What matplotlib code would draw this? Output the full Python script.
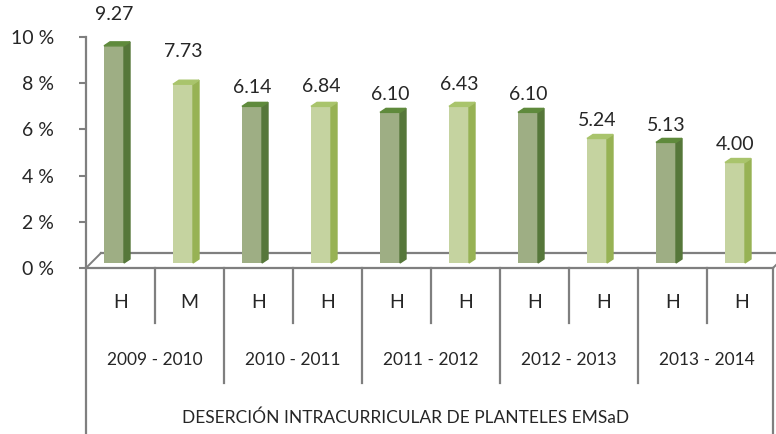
import matplotlib.pyplot as plt
from matplotlib.patches import Polygon

plt.rcParams['font.family'] = ['Lato', 'DejaVu Sans']

# data
sexo = ['H', 'M', 'H', 'H', 'H', 'H', 'H', 'H', 'H', 'H']
ciclos = ['2009 - 2010', '2010 - 2011', '2011 - 2012', '2012 - 2013', '2013 - 2014']
etiquetas = ['9.27', '7.73', '6.14', '6.84', '6.10', '6.43', '6.10', '5.24', '5.13', '4.00']
alturas = [9.40, 7.74, 6.78, 6.78, 6.52, 6.78, 6.52, 5.39, 5.22, 4.35]   # bar heights as drawn (%)
yticks = [0, 2, 4, 6, 8, 10]
titulo = 'DESERCIÓN INTRACURRICULAR DE PLANTELES EMSaD'

W, H = 776, 434
PX_X = 69.0      # pixels per category
PX_Y = 23.1      # pixels per percent
gris = '#7f7f7f'
texto = '#262626'

oscuro = ('#9eae84', '#56773a', '#5f8a3c')   # front, side, top
claro = ('#c5d3a0', '#97b254', '#a9c46c')

fig = plt.figure(figsize=(W / 100, H / 100), dpi=100)
ax = fig.add_axes([86 / W, (H - 268) / H, 690 / W, 231 / H])
ax.set_xlim(0, 10)
ax.set_ylim(0, 10)
for s in ['top', 'right', 'bottom']:
    ax.spines[s].set_visible(False)
ax.spines['left'].set_color(gris)
ax.spines['left'].set_linewidth(1.6)
ax.set_xticks([])
ax.set_yticks(yticks)
ax.set_yticklabels([f'{t} %' for t in yticks], fontsize=14, color=texto)
ax.tick_params(axis='y', direction='out', length=5, width=1.5, color=gris, pad=18)

# floor
dfx, dfy = 15 / PX_X, 15 / PX_Y
xr = 687 / PX_X
ax.plot([0, xr], [0, 0], color=gris, lw=1.6, clip_on=False, zorder=1)
ax.plot([dfx, 10.3], [dfy, dfy], color=gris, lw=1.6, clip_on=False, zorder=1)
ax.plot([0, dfx], [0, dfy], color=gris, lw=1.4, clip_on=False, zorder=1)
ax.plot([xr, xr + dfx], [0, dfy], color=gris, lw=1.4, clip_on=False, zorder=1)

# bars with a little depth
base = 5 / PX_Y
bw = 20 / PX_X
dx, dy = 6 / PX_X, 4 / PX_Y
lift = [31, 33, 19, 20, 18, 22, 18, 18, 17, 18]
for i, h in enumerate(alturas):
    fr, sd, tp = oscuro if i % 2 == 0 else claro
    x0 = i + 18 / PX_X
    ax.bar(x0, h, bw, bottom=base, align='edge', color=fr, zorder=3, clip_on=False)
    top = base + h
    ax.add_patch(Polygon([(x0 + bw, base), (x0 + bw + dx, base + dy),
                          (x0 + bw + dx, top + dy), (x0 + bw, top)],
                         closed=True, color=sd, zorder=3, clip_on=False))
    ax.add_patch(Polygon([(x0, top), (x0 + dx, top + dy),
                          (x0 + bw + dx, top + dy), (x0 + bw, top)],
                         closed=True, color=tp, zorder=3, clip_on=False))
    ax.text(x0 + bw / 2, top + lift[i] / PX_Y, etiquetas[i], ha='center', va='center',
            fontsize=14, color=texto, clip_on=False)

# category table below
tab = fig.add_axes([86 / W, 0, 690 / W, 166 / H])
tab.set_xlim(0, 10)
tab.set_ylim(166, 0)
tab.axis('off')
tab.plot([0, 0], [0, 166], color=gris, lw=1.6, clip_on=False)
tab.plot([xr, xr], [0, 166], color=gris, lw=1.6, clip_on=False)
for k in range(1, 10):
    largo = 55 if k % 2 == 1 else 115
    tab.plot([k, k], [0, largo], color=gris, lw=1.6, clip_on=False)
for i, s in enumerate(sexo):
    tab.text(i + 0.5, 35, s, ha='center', va='center', fontsize=14, color=texto)
for j, c in enumerate(ciclos):
    tab.text(2 * j + 1, 92, c, ha='center', va='center', fontsize=12.5, color=texto)
tab.text(320 / PX_X, 150, titulo, ha='center', va='center', fontsize=12.5, color=texto)

fig.savefig('out.png', dpi=100)
